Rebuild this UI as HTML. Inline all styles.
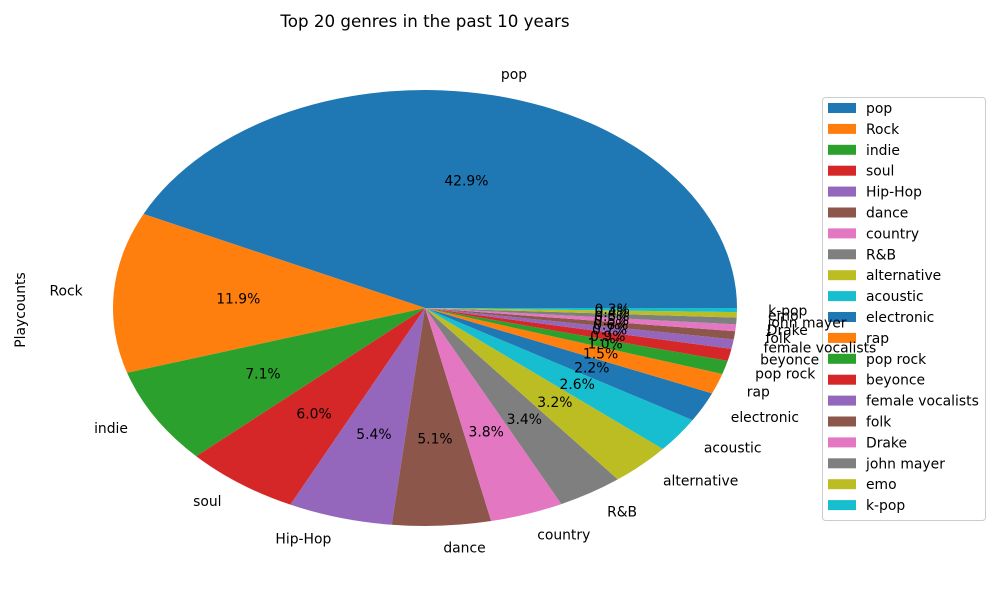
<!DOCTYPE html>
<html><head><meta charset="utf-8"><style>
body{margin:0;background:#fff;}
svg text{font-family:"DejaVu Sans","Liberation Sans",sans-serif;}
</style></head><body>
<svg id="chart" width="1000" height="600" viewBox="0 0 1000 600" xmlns="http://www.w3.org/2000/svg">
<text x="425" y="27" font-size="16.7" text-anchor="middle">Top 20 genres in the past 10 years</text>
<text x="25" y="310" font-size="13.9" text-anchor="middle" transform="rotate(-90 25 310)">Playcounts</text>
<g id="legend"></g>
<g id="slices"></g>
</svg>
<script>
const categories=["pop","Rock","indie","soul","Hip-Hop","dance","country","R&B","alternative","acoustic","electronic","rap","pop rock","beyonce","female vocalists","folk","Drake","john mayer","emo","k-pop"];
const values=[42.9,11.9,7.1,6.0,5.4,5.1,3.8,3.4,3.2,2.6,2.2,1.5,1.0,0.9,0.7,0.6,0.5,0.5,0.4,0.3];
const colors=["#1f77b4","#ff7f0e","#2ca02c","#d62728","#9467bd","#8c564b","#e377c2","#7f7f7f","#bcbd22","#17becf"];
const cx=425,cy=308,rx=312,ry=218;
const FS='13.9';
const NS="http://www.w3.org/2000/svg";
const lg=document.getElementById('legend');
const box=document.createElementNS(NS,'rect');
box.setAttribute('x',822.5);box.setAttribute('y',97.5);box.setAttribute('width',163);box.setAttribute('height',423);
box.setAttribute('rx',3);box.setAttribute('fill','#fff');box.setAttribute('stroke','#ccc');


lg.appendChild(box);
categories.forEach((c,i)=>{
  const y=108+i*20.9;
  const r=document.createElementNS(NS,'rect');
  r.setAttribute('x',828);r.setAttribute('y',y-5);r.setAttribute('width',28);r.setAttribute('height',10);
  r.setAttribute('fill',colors[i%10]);
  
  
  lg.appendChild(r);
  const t=document.createElementNS(NS,'text');
  t.setAttribute('x',866);t.setAttribute('y',y+5);t.setAttribute('font-size',FS);
  t.textContent=c;
  
  
  lg.appendChild(t);
});
const g=document.getElementById('slices');
const total=values.reduce((a,b)=>a+b,0);
function pt(a,f){return [cx+f*rx*Math.cos(a),cy-f*ry*Math.sin(a)];}
let start=0;
values.forEach((v,i)=>{
  const sweep=v/total*2*Math.PI, end=start+sweep;
  const p1=pt(start,1),p2=pt(end,1);
  const path=document.createElementNS(NS,'path');
  path.setAttribute('d',`M${cx},${cy} L${p1[0]},${p1[1]} A${rx},${ry} 0 ${sweep>Math.PI?1:0} 0 ${p2[0]},${p2[1]} Z`);
  path.setAttribute('fill',colors[i%10]);
  
  
  g.appendChild(path);
  start=end;
});
start=0;
values.forEach((v,i)=>{
  const sweep=v/total*2*Math.PI, end=start+sweep;
  const mid=(start+end)/2;
  const lp=pt(mid,1.1);
  const t=document.createElementNS(NS,'text');
  t.setAttribute('x',lp[0]);t.setAttribute('y',lp[1]+5);
  t.setAttribute('font-size',FS);
  t.setAttribute('text-anchor',Math.cos(mid)>=0?'start':'end');
  t.textContent=categories[i];
  
  
  g.appendChild(t);
  const pp=pt(mid,0.6);
  const t2=document.createElementNS(NS,'text');
  t2.setAttribute('x',pp[0]);t2.setAttribute('y',pp[1]+5);
  t2.setAttribute('font-size',FS);
  t2.setAttribute('text-anchor','middle');
  t2.textContent=(v/total*100).toFixed(1)+'%';
  
  
  g.appendChild(t2);
  start=end;
});
</script>
</body></html>
